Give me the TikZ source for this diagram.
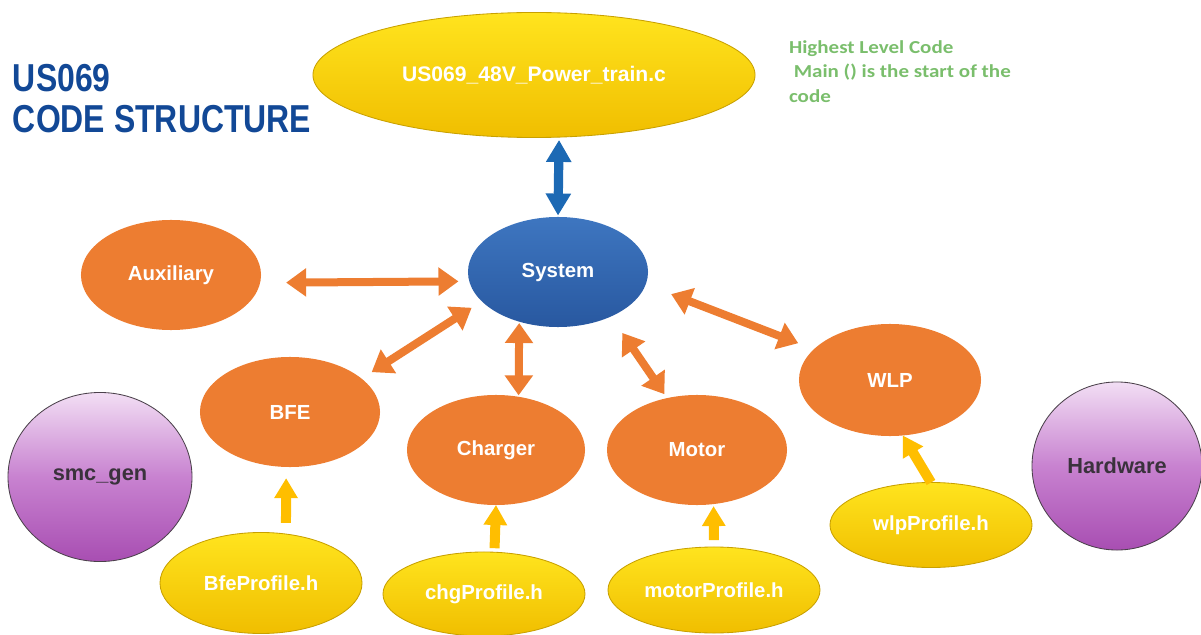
\documentclass[tikz,border=0pt]{standalone}
\usepackage{fontspec}
\setmainfont{Liberation Sans}
\newfontfamily\notefont{Carlito}
\usepackage{graphicx}
\usepackage{tikz}
\usetikzlibrary{shapes.geometric, arrows.meta}
\definecolor{titleblue}{RGB}{18, 72, 150}
\definecolor{notegreen}{RGB}{122, 190, 108}
\definecolor{modorange}{RGB}{237, 125, 49}
\definecolor{fileyellowtop}{RGB}{255, 228, 30}
\definecolor{fileyellowbot}{RGB}{240, 190, 0}
\definecolor{fileyellowedge}{RGB}{200, 160, 0}
\definecolor{sysbluetop}{RGB}{62, 118, 192}
\definecolor{sysbluebot}{RGB}{40, 88, 160}
\definecolor{linkblue}{RGB}{28, 105, 180}
\definecolor{linkyellow}{RGB}{255, 190, 0}
\definecolor{toolpurpletop}{RGB}{242, 222, 244}
\definecolor{toolpurplemid}{RGB}{200, 130, 208}
\definecolor{toolpurplebot}{RGB}{168, 78, 178}
\definecolor{tooledge}{RGB}{75, 65, 75}
\definecolor{tooltext}{RGB}{58, 50, 60}

\begin{document}
\begin{tikzpicture}[x=0.025cm, y=-0.025cm,
    every node/.style={outer sep=0pt, inner sep=0pt},
    module/.style={ellipse, fill=modorange, text=white, font=\bfseries\fontsize{14.5}{17}\selectfont, minimum width=4.5cm, minimum height=2.75cm},
    sysnode/.style={ellipse, top color=sysbluetop, bottom color=sysbluebot, text=white, font=\bfseries\fontsize{14.5}{17}\selectfont, minimum width=4.5cm, minimum height=2.75cm},
    srcfile/.style={ellipse, draw=fileyellowedge, line width=0.6pt, top color=fileyellowtop, bottom color=fileyellowbot, text=white, font=\bfseries\fontsize{14.5}{17}\selectfont},
    toolnode/.style={ellipse, draw=tooledge, line width=0.6pt, top color=toolpurpletop, bottom color=toolpurplebot, middle color=toolpurplemid, text=tooltext, font=\bfseries\fontsize{15.5}{18}\selectfont},
    link/.style={line width=0.2cm, draw=modorange, {Triangle[width=0.68cm, length=0.5cm]}-{Triangle[width=0.68cm, length=0.5cm]}},
    mainlink/.style={line width=0.23cm, draw=linkblue, {Triangle[width=0.6cm, length=0.55cm]}-{Triangle[width=0.6cm, length=0.55cm]}},
    include/.style={line width=0.25cm, draw=linkyellow, -{Triangle[width=0.56cm, length=0.5cm]}}]
    \useasboundingbox (0, 0) rectangle (1201, 635);

    % Title and note
    \node[anchor=north west, text=titleblue, font=\bfseries\fontsize{27.7}{29.2}\selectfont] (title) at (13, 63)
        {\scalebox{0.82}[1]{\begin{tabular}{@{}l@{}}US069\\CODE STRUCTURE\end{tabular}}};
    \node[anchor=north west, text=notegreen, font=\notefont\bfseries\fontsize{13}{17.4}\selectfont] (note) at (789, 36)
        {\scalebox{1.15}[1]{\begin{tabular}{@{}l@{}}Highest Level Code\\ \ Main () is the start of the\\code\end{tabular}}};

    % Top level file and system
    \node[srcfile, minimum width=11.05cm, minimum height=3.125cm, font=\bfseries\fontsize{15}{18}\selectfont] (main) at (534, 75) {US069\_48V\_Power\_train.c};
    \node[sysnode] (sys) at (558, 272) {System};

    % Modules
    \node[module] (aux) at (171, 275) {Auxiliary};
    \node[module] (bfe) at (290, 412) {BFE};
    \node[module, minimum width=4.45cm] (chg) at (496, 450) {Charger};
    \node[module] (motor) at (697, 450) {Motor};
    \node[module, minimum width=4.55cm, minimum height=2.8cm] (wlp) at (890, 380) {WLP};

    % Tools
    \node[toolnode, minimum width=4.6cm, minimum height=4.225cm] (smc) at (100, 477) {smc\_gen};
    \node[toolnode, minimum width=4.25cm, minimum height=4.2cm] (hw) at (1117, 466) {Hardware};

    % Profiles
    \node[srcfile, minimum width=5.05cm, minimum height=2.525cm] (bfep) at (261, 583) {BfeProfile.h};
    \node[srcfile, minimum width=5.05cm, minimum height=2.1cm] (chgp) at (484, 594) {chgProfile.h};
    \node[srcfile, minimum width=5.3cm, minimum height=2.15cm] (motorp) at (714, 590) {motorProfile.h};
    \node[srcfile, minimum width=5.05cm, minimum height=2.125cm] (wlpp) at (931, 525) {wlpProfile.h};

    % Links
    \draw[mainlink, shorten <=2pt, shorten >=1pt] (main.292) -- (sys.north);
    \draw[link, shorten <=0.65cm, shorten >=0.27cm] (aux.-5) -- (sys.186);
    \draw[link, shorten <=0.3cm, shorten >=0.3cm] (bfe.25) -- (sys.201);
    \draw[link, shorten <=1pt, shorten >=1pt] (sys.232) -- (chg.67);
    \draw[link, shorten <=0.5cm, shorten >=0.12cm] (sys.-40) -- (motor.120);
    \draw[link, shorten <=0.68cm, shorten >=0.42cm] (sys.-8) -- (wlp.158);

    % Includes
    \draw[include, shorten <=0.28cm, shorten >=0.28cm] (bfep.63) -- (bfe.266);
    \draw[include, shorten <=0.1cm] (chgp.76) -- (chg.south);
    \draw[include, shorten <=0.17cm, shorten >=0.05cm] (motorp.north) -- (motor.287);
    \draw[include] (wlpp.north) -- (wlp.283);

\end{tikzpicture}
\end{document}
